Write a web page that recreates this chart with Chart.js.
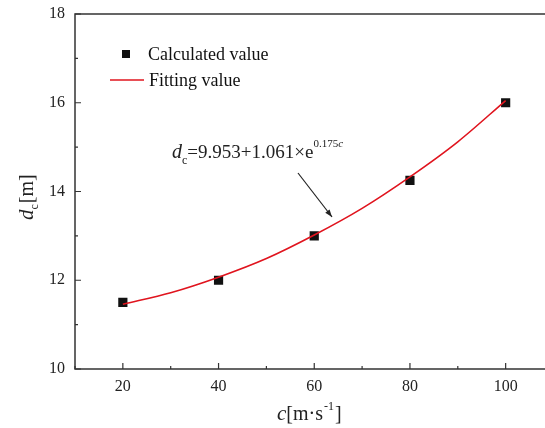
<!DOCTYPE html>
<html>
<head>
<meta charset="utf-8">
<script src="https://cdn.jsdelivr.net/npm/chart.js@4/dist/chart.umd.min.js"></script>
<style>
  html, body { margin: 0; padding: 0; background: #fff; overflow: hidden; }
  #wrap { width: 560px; height: 428px; }
</style>
</head>
<body>
<div id="wrap"><canvas id="chart"></canvas></div>
<script>
// calculated points
const speeds = [20, 40, 60, 80, 100];
const calcDepth = [11.5, 12.0, 13.0, 14.25, 16.0];

// fitted curve
const fitSpeeds = [20, 30, 40, 50, 60, 70, 80, 90, 100];
const fitDepth = [11.46, 11.72, 12.07, 12.49, 13.02, 13.62, 14.33, 15.12, 16.05];

const xTicks = [20, 40, 60, 80, 100];
const yTicks = [10, 12, 14, 16, 18];

const serif = "'Liberation Serif', 'DejaVu Serif', serif";
const axisColor = "#333";

const frameAndText = {
  id: "frameAndText",
  afterDraw(chart) {
    const ctx = chart.ctx;
    const { left, right, top, bottom } = chart.chartArea;
    const xs = chart.scales.x;
    const ys = chart.scales.y;
    ctx.save();

    // frame
    ctx.strokeStyle = axisColor;
    ctx.lineWidth = 1.5;
    ctx.beginPath();
    ctx.moveTo(right, top);
    ctx.lineTo(left, top);
    ctx.lineTo(left, bottom);
    ctx.lineTo(right, bottom);
    ctx.lineTo(right, top);
    ctx.stroke();

    // inward ticks, major and minor
    ctx.lineWidth = 1.2;
    ctx.beginPath();
    for (let v = 10; v <= 110; v += 10) {
      const px = xs.getPixelForValue(v);
      const len = v % 20 === 0 ? 6 : 3;
      ctx.moveTo(px, bottom);
      ctx.lineTo(px, bottom - len);
    }
    for (let v = 10; v <= 18; v += 1) {
      const py = ys.getPixelForValue(v);
      const len = v % 2 === 0 ? 6 : 3;
      ctx.moveTo(left, py);
      ctx.lineTo(left + len, py);
    }
    ctx.stroke();

    ctx.fillStyle = "#222";
    ctx.textBaseline = "alphabetic";

    // x title
    ctx.textAlign = "left";
    ctx.font = "italic 21px " + serif;
    let x = 277;
    const yb = 420;
    ctx.fillText("c", x, yb);
    x += ctx.measureText("c").width;
    ctx.font = "20px " + serif;
    ctx.fillText("[m·s", x, yb);
    x += ctx.measureText("[m·s").width;
    ctx.font = "12px " + serif;
    ctx.fillText("-1", x + 1, yb - 10);
    x += ctx.measureText("-1").width + 2;
    ctx.font = "20px " + serif;
    ctx.fillText("]", x, yb);

    // y title
    ctx.save();
    ctx.translate(33, 220);
    ctx.rotate(-Math.PI / 2);
    let yx = 0;
    ctx.font = "italic 21px " + serif;
    ctx.fillText("d", yx, 0);
    yx += ctx.measureText("d").width;
    ctx.font = "12px " + serif;
    ctx.fillText("c", yx, 5);
    yx += ctx.measureText("c").width + 1;
    ctx.font = "20px " + serif;
    ctx.fillText("[m]", yx, 0);
    ctx.restore();

    // legend
    const ds = chart.data.datasets;
    ctx.font = "18px " + serif;
    ctx.fillStyle = "#111";
    ctx.fillRect(122, 50, 8, 8);
    ctx.fillText(ds[0].label, 148, 60);
    ctx.strokeStyle = "#e0141e";
    ctx.lineWidth = 1.5;
    ctx.beginPath();
    ctx.moveTo(110, 80);
    ctx.lineTo(144, 80);
    ctx.stroke();
    ctx.fillText(ds[1].label, 149, 86);

    // equation
    let ex = 172;
    const ey = 158;
    ctx.fillStyle = "#222";
    ctx.font = "italic 20px " + serif;
    ctx.fillText("d", ex, ey);
    ex += ctx.measureText("d").width;
    ctx.font = "12px " + serif;
    ctx.fillText("c", ex, ey + 6);
    ex += ctx.measureText("c").width;
    ctx.font = "19px " + serif;
    const eq = "=9.953+1.061×e";
    ctx.fillText(eq, ex, ey);
    ex += ctx.measureText(eq).width;
    ctx.font = "11px " + serif;
    ctx.fillText("0.175", ex, ey - 11);
    ex += ctx.measureText("0.175").width;
    ctx.font = "italic 11px " + serif;
    ctx.fillText("c", ex, ey - 11);

    // arrow
    const ax0 = 298, ay0 = 173, ax1 = 332, ay1 = 217;
    ctx.strokeStyle = "#222";
    ctx.lineWidth = 1.2;
    ctx.beginPath();
    ctx.moveTo(ax0, ay0);
    ctx.lineTo(ax1, ay1);
    ctx.stroke();
    const ang = Math.atan2(ay1 - ay0, ax1 - ax0);
    ctx.beginPath();
    ctx.moveTo(ax1, ay1);
    ctx.lineTo(ax1 - 8 * Math.cos(ang - 0.35), ay1 - 8 * Math.sin(ang - 0.35));
    ctx.lineTo(ax1 - 8 * Math.cos(ang + 0.35), ay1 - 8 * Math.sin(ang + 0.35));
    ctx.closePath();
    ctx.fillStyle = "#222";
    ctx.fill();

    ctx.restore();
  },
};

new Chart(document.getElementById("chart"), {
  type: "scatter",
  data: {
    datasets: [
      {
        label: "Calculated value",
        data: speeds.map((s, i) => ({ x: s, y: calcDepth[i] })),
        pointStyle: "rect",
        pointRadius: 6.5,
        backgroundColor: "#111",
        borderColor: "#111",
        borderWidth: 0,
        order: 2,
      },
      {
        label: "Fitting value",
        type: "line",
        data: fitSpeeds.map((s, i) => ({ x: s, y: fitDepth[i] })),
        borderColor: "#e0141e",
        borderWidth: 1.6,
        pointRadius: 0,
        cubicInterpolationMode: "monotone",
        fill: false,
        order: 1,
      },
    ],
  },
  options: {
    responsive: true,
    maintainAspectRatio: false,
    animation: false,
    layout: { padding: { top: 14, right: 6, left: 0, bottom: 0 } },
    plugins: {
      legend: { display: false },
      tooltip: { enabled: false },
    },
    scales: {
      x: {
        type: "linear",
        min: 10,
        max: 110,
        afterFit: (s) => {
          s.height = 59;
          s.paddingLeft = 0;
          s.paddingRight = 0;
        },
        afterBuildTicks: (s) => { s.ticks = xTicks.map((v) => ({ value: v })); },
        grid: { display: false, drawTicks: false },
        border: { display: false },
        ticks: {
          padding: 8,
          color: "#222",
          font: { family: serif, size: 16 },
        },
      },
      y: {
        min: 10,
        max: 18,
        afterFit: (s) => {
          s.width = 75;
          s.paddingTop = 0;
          s.paddingBottom = 0;
        },
        afterBuildTicks: (s) => { s.ticks = yTicks.map((v) => ({ value: v })); },
        grid: { display: false, drawTicks: false },
        border: { display: false },
        ticks: {
          padding: 10,
          color: "#222",
          font: { family: serif, size: 16 },
        },
      },
    },
  },
  plugins: [frameAndText],
});
</script>
</body>
</html>
